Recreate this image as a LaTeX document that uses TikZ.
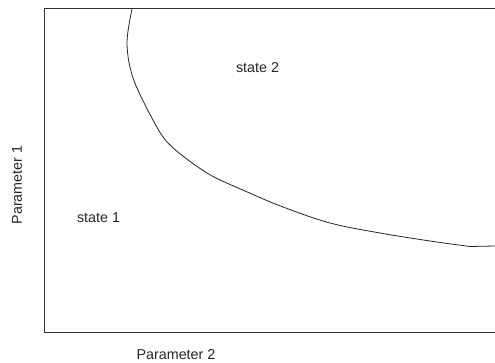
\documentclass[tikz,border=0pt]{standalone}
\usepackage{fontspec}
\setmainfont{Liberation Sans}
\usetikzlibrary{positioning}
\definecolor{axisgray}{RGB}{50,50,50}

\begin{document}
\begin{tikzpicture}[
        x=1pt, y=-1pt,
        lbl/.style={font=\fontsize{14.3}{17}\selectfont, inner sep=0pt, text=black!85},
        frame/.style={draw=axisgray, line width=1pt},
        border/.style={draw=black!85, line width=0.8pt}
      ]
        \useasboundingbox (0,0) rectangle (495,363);
        % axes box (open on the right)
        \coordinate (tl) at (44,9);
        \coordinate (bl) at (44,332);
        \draw[frame] (495,9) -- (tl) -- (bl) -- (495,332);
        % boundary between the two states
        \draw[border] plot[smooth, tension=0.55] coordinates {
            (132,9) (127,43) (133,78) (153,120) (170,145) (207,173)
            (245,191) (283,207) (330,223) (380,233) (430,241) (470,246.5)}
            -- (495,246);
        \node[lbl] (s2) at (257.5,68) {state 2};
        \node[lbl] (s1) at (98.5,218) {state 1};
        \node[lbl, rotate=90] (p1) at (17,185) {Parameter 1};
        \node[lbl] (p2) at (176,355) {Parameter 2};
      \end{tikzpicture}
\end{document}
